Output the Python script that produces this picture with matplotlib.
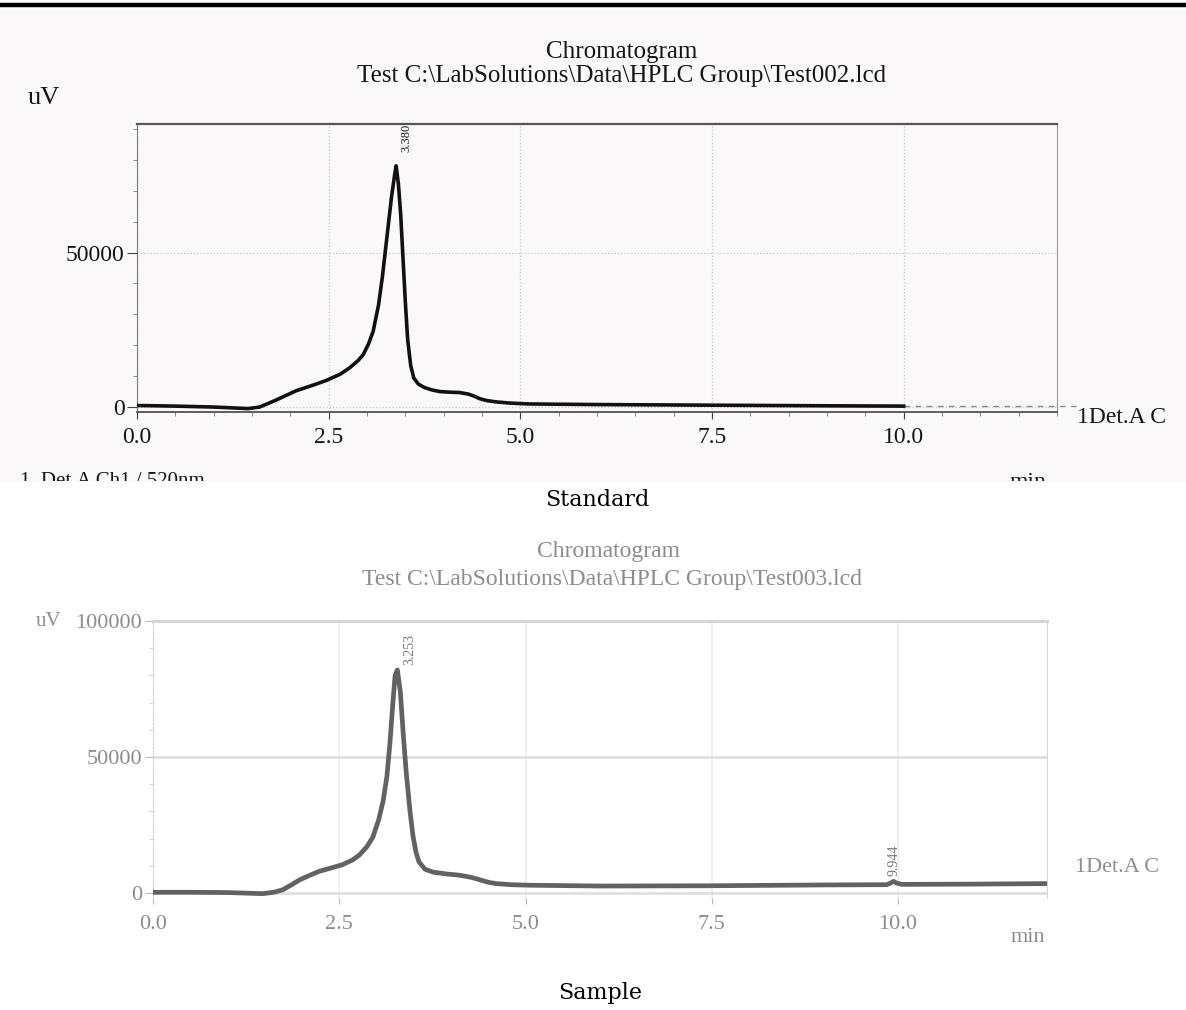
import matplotlib
matplotlib.use("Agg")
import matplotlib.pyplot as plt
from matplotlib.ticker import MultipleLocator, FixedLocator, FuncFormatter
from matplotlib.patches import Rectangle
from matplotlib.transforms import Bbox

# ---- data (time in min, signal in uV) ----
std_time = [0.0, 0.5, 1.0, 1.45, 1.6, 1.8, 2.08, 2.3, 2.47, 2.65, 2.77, 2.88,
            2.95, 3.02, 3.08, 3.15, 3.2, 3.26, 3.32, 3.36, 3.38, 3.41, 3.44,
            3.47, 3.5, 3.53, 3.57, 3.61, 3.67, 3.75, 3.85, 3.95, 4.08, 4.2,
            4.32, 4.4, 4.47, 4.56, 4.67, 4.85, 5.1, 6.0, 7.5, 9.0, 10.0]
std_signal = [600, 400, 100, -400, 100, 2200, 5400, 7200, 8700, 10700, 12700,
              15000, 17000, 20500, 24500, 33000, 42000, 55000, 68000, 75000,
              78000, 72000, 62000, 48000, 34000, 22000, 13500, 9500, 7500, 6400,
              5600, 5100, 4900, 4800, 4300, 3600, 2800, 2200, 1800, 1400, 1100,
              900, 700, 500, 400]
std_peak_time = 3.380

smp_time = [0.0, 0.5, 1.0, 1.47, 1.62, 1.74, 1.85, 1.97, 2.1, 2.23, 2.4, 2.54,
            2.68, 2.77, 2.87, 2.95, 3.03, 3.09, 3.14, 3.18, 3.22, 3.25, 3.28,
            3.32, 3.36, 3.40, 3.45, 3.49, 3.53, 3.57, 3.65, 3.76, 3.95, 4.11,
            4.27, 4.41, 4.5, 4.6, 4.8, 5.04, 6.0, 7.5, 9.0, 9.85, 9.9, 9.94,
            9.98, 10.05, 11.0, 12.0]
smp_signal = [300, 300, 200, -200, 300, 1200, 2900, 4900, 6500, 8000, 9300,
              10400, 12200, 14000, 17000, 20500, 27000, 34000, 43000, 55000,
              70000, 80000, 82000, 74000, 58000, 44000, 30000, 21000, 15000,
              11500, 8800, 7700, 7000, 6600, 5800, 4700, 4000, 3500, 3100, 2900,
              2600, 2700, 3000, 3100, 3700, 4300, 3700, 3200, 3300, 3500]
smp_peaks = [(3.28, "3.253"), (9.94, "9.944")]

x_major = [0.0, 2.5, 5.0, 7.5, 10.0]
std_yticks = [0, 50000]
smp_yticks = [0, 50000, 100000]

W, H = 1186, 1010
fig = plt.figure(figsize=(W / 100, H / 100), dpi=100)
fig.patch.set_facecolor("white")
plt.rcParams["font.family"] = ["Liberation Serif", "DejaVu Serif"]


def box(l, t, r, b):
    return [l / W, 1 - b / H, (r - l) / W, (b - t) / H]


def ftext(x, y, s, **kw):
    return fig.text(x / W, 1 - y / H, s, **kw)


# scanned page background and the black rule at the top
fig.patches.append(Rectangle((0, 1 - 481 / H), 1, (481 - 10) / H, transform=fig.transFigure,
                             facecolor="#fbf8fa", edgecolor="none", zorder=-5))
fig.lines.append(plt.Line2D([0, 1], [1 - 5 / H] * 2, transform=fig.transFigure,
                            color="black", lw=3.2, zorder=-4))

# ================= Standard =================
ink = "#151515"
ax1 = fig.add_axes(box(137, 124, 1057, 412))
ax1.set_facecolor("none")
ax1.set_zorder(2)
ax1.plot(std_time, std_signal, color="#111111", lw=2.6, solid_joinstyle="round", zorder=3)
ax1.plot([std_time[-1], 12.25], [std_signal[-1]] * 2, color="#888888", lw=1.0,
         ls=(0, (4, 4)), clip_on=False, zorder=2)
ax1.set_xlim(0, 12)
ax1.set_ylim(-1500, 91500)
ax1.xaxis.set_major_locator(FixedLocator(x_major))
ax1.xaxis.set_minor_locator(MultipleLocator(0.5))
ax1.yaxis.set_major_locator(FixedLocator(std_yticks))
ax1.yaxis.set_minor_locator(MultipleLocator(10000))
ax1.xaxis.set_major_formatter(FuncFormatter(lambda v, p: f"{v:.1f}"))
ax1.yaxis.set_major_formatter(FuncFormatter(lambda v, p: f"{v:.0f}"))
ax1.tick_params(axis="both", which="major", labelsize=17, colors="#444", labelcolor=ink)
ax1.tick_params(axis="x", which="major", length=5, pad=6)
ax1.tick_params(axis="y", which="major", length=7, pad=2)
ax1.tick_params(which="minor", length=3, colors="#777")
ax1.grid(True, which="major", color="#c8c8c8", ls=":", lw=0.9)
ax1.spines["top"].set_color("#555")
ax1.spines["top"].set_linewidth(1.6)
ax1.spines["left"].set_color("#777")
ax1.spines["right"].set_color("#999")
ax1.spines["right"].set_linewidth(0.8)
ax1.spines["bottom"].set_color("#444")
ax1.spines["bottom"].set_linewidth(1.2)
ax1.text(std_peak_time + 0.14, 82500, f"{std_peak_time:.3f}", rotation=90,
         ha="center", va="bottom", fontsize=9, color=ink)

ftext(622, 52, "Chromatogram", ha="center", va="center", fontsize=18, color=ink)
ftext(622, 76, r"Test C:\LabSolutions\Data\HPLC Group\Test002.lcd", ha="center",
      va="center", fontsize=18, color=ink)
ftext(28, 98, "uV", ha="left", va="center", fontsize=19, color=ink)
ftext(1077, 418, "1Det.A C", ha="left", va="center", fontsize=17, color=ink)
clip = Bbox.from_extents(0, H - 481, W, H - 440)
for t in [ftext(20, 472, "1  Det.A Ch1 / 520nm", ha="left", va="top", fontsize=15, color=ink),
          ftext(1028, 472, "min", ha="center", va="top", fontsize=17, color=ink)]:
    t.set_clip_box(clip)
    t.set_clip_on(True)

ftext(597, 500, "Standard", ha="center", va="center", fontsize=16, color="black",
      family="DejaVu Serif")

# ================= Sample =================
faint = "#8c8c8c"
ax2 = fig.add_axes(box(153, 621, 1047, 898))
ax2.plot(smp_time, smp_signal, color="#5a5a5a", lw=3.4, solid_joinstyle="round",
         alpha=0.95, zorder=3)
ax2.set_xlim(0, 12)
ax2.set_ylim(-1800, 100000)
ax2.xaxis.set_major_locator(FixedLocator(x_major))
ax2.yaxis.set_major_locator(FixedLocator(smp_yticks))
ax2.yaxis.set_minor_locator(MultipleLocator(10000))
ax2.xaxis.set_major_formatter(FuncFormatter(lambda v, p: f"{v:.1f}"))
ax2.yaxis.set_major_formatter(FuncFormatter(lambda v, p: f"{v:.0f}"))
ax2.tick_params(axis="both", which="major", labelsize=16, colors="#bbbbbb", labelcolor=faint)
ax2.tick_params(axis="x", which="major", length=4, pad=8)
ax2.tick_params(axis="y", which="major", length=6, pad=2)
ax2.tick_params(which="minor", length=3, colors="#cccccc")
ax2.grid(True, axis="y", color="#dddddd", lw=1.8)
ax2.grid(True, axis="x", color="#ececec", lw=1.2)
for side in ["top", "right"]:
    ax2.spines[side].set_color("#d6d6d6")
ax2.spines["top"].set_linewidth(2.2)
ax2.spines["left"].set_color("#cfcfcf")
ax2.spines["left"].set_linestyle(":")
ax2.spines["bottom"].set_visible(False)
for pt, lab in smp_peaks:
    idx = smp_time.index(pt)
    ax2.text(pt + 0.17 if pt < 5 else pt, smp_signal[idx] + 2000, lab, rotation=90,
             ha="center", va="bottom", fontsize=10, color="#777777")

ftext(609, 551, "Chromatogram", ha="center", va="center", fontsize=17, color=faint)
ftext(612, 579, r"Test C:\LabSolutions\Data\HPLC Group\Test003.lcd", ha="center",
      va="center", fontsize=17, color=faint)
ftext(36, 622, "uV", ha="left", va="center", fontsize=15, color=faint)
ftext(1075, 867, "1Det.A C", ha="left", va="center", fontsize=16, color=faint)
ftext(1028, 938, "min", ha="center", va="center", fontsize=16, color=faint)

ftext(600, 993, "Sample", ha="center", va="center", fontsize=16, color="black",
      family="DejaVu Serif")

fig.savefig("out.png", dpi=100)
